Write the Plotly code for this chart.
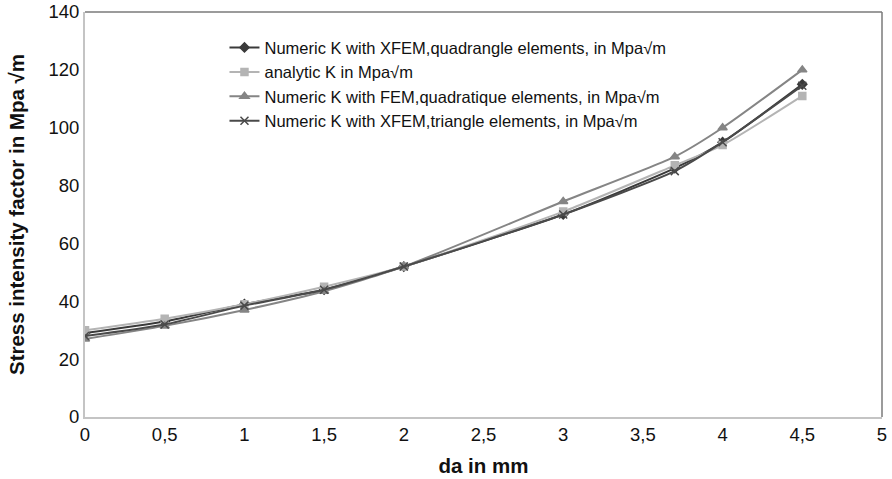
import plotly.graph_objects as go

da = [0, 0.5, 1, 1.5, 2, 3, 3.7, 4, 4.5]
xfem_quad = [29, 33, 39, 44, 52, 70, 86, 95, 115]
analytic = [30, 34, 39, 45, 52, 71, 87, 94, 111]
fem_quadratique = [27, 31.5, 37, 43.5, 52, 74.5, 90, 100, 120]
xfem_tri = [28, 32, 38.5, 44, 52, 70, 85, 95, 114.5]

names = [
    "Numeric K with XFEM,quadrangle elements, in Mpa\u221am",
    "analytic K in Mpa\u221am",
    "Numeric K with FEM,quadratique elements, in Mpa\u221am",
    "Numeric K with XFEM,triangle elements, in Mpa\u221am",
]
series = [xfem_quad, analytic, fem_quadratique, xfem_tri]
colors = ["#3a3a3a", "#b4b4b4", "#858585", "#4a4a4a"]
symbols = ["diamond", "square", "triangle-up", "x-thin"]
sizes = [7, 7, 8, 8]

fig = go.Figure()
for nm, ys, c, s, sz in zip(names, series, colors, symbols, sizes):
    fig.add_trace(go.Scatter(
        x=da, y=ys, name=nm, mode="lines+markers",
        line=dict(color=c, width=2, shape="spline", smoothing=0.6),
        marker=dict(symbol=s, size=sz, color=c, line=dict(color=c, width=1.5)),
    ))

fig.update_layout(
    width=892, height=479,
    margin=dict(l=85, r=10, t=12, b=62),
    paper_bgcolor="white", plot_bgcolor="white",
    separators=", ",
    font=dict(family="Liberation Sans, Arial, sans-serif", size=18.5, color="#111"),
    showlegend=True,
    legend=dict(
        x=0.175, y=0.955, xanchor="left", yanchor="top",
        bgcolor="rgba(0,0,0,0)", font=dict(size=16.5, color="#111"),
        tracegroupgap=0, itemwidth=30,
    ),
    xaxis=dict(
        range=[0, 5], dtick=0.5, tick0=0, showgrid=False, zeroline=False,
        showline=True, linecolor="#c4c4c4", linewidth=2, ticks="",
        title=dict(text="<b>da in mm</b>", font=dict(size=20.5), standoff=14),
        tickfont=dict(size=18.5), automargin=False,
    ),
    yaxis=dict(
        range=[0, 140], dtick=20, showgrid=False, zeroline=False,
        showline=True, linecolor="#c4c4c4", linewidth=2, ticks="",
        title=dict(text="<b>Stress intensity factor in Mpa \u221am</b>", font=dict(size=20.5), standoff=18),
        tickfont=dict(size=18.5), automargin=False,
    ),
    shapes=[
        dict(type="line", xref="paper", yref="paper", x0=0, x1=1, y0=1, y1=1,
             line=dict(color="#7a7a7a", width=1.5)),
        dict(type="line", xref="paper", yref="paper", x0=1, x1=1, y0=0, y1=1,
             line=dict(color="#7a7a7a", width=1.5)),
    ],
)

fig.write_html("out.html")
